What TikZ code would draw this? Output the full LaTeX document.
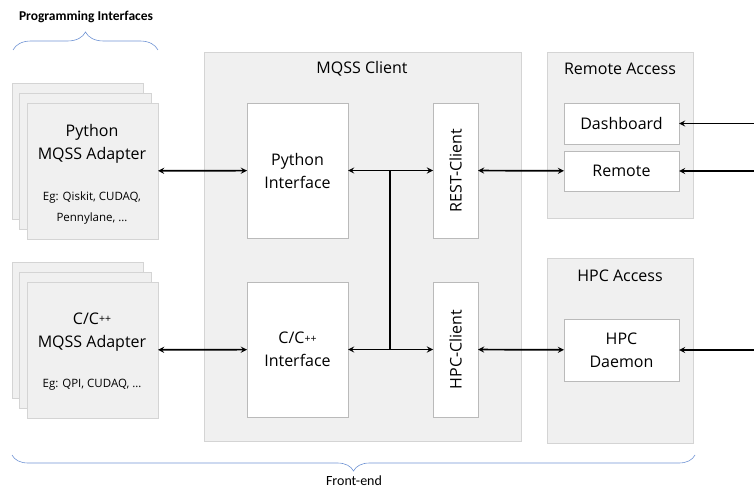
\documentclass[tikz,border=0pt]{standalone}
\usepackage{fontspec}
\setmainfont{Open Sans}
\newfontfamily\notefont{Carlito}
\usetikzlibrary{arrows, positioning, shadows, decorations.pathreplacing}
\definecolor{panelfill}{HTML}{F0F0F0}
\definecolor{paneldraw}{HTML}{D4D4D4}
\definecolor{blockdraw}{HTML}{BABABA}
\definecolor{bracecol}{HTML}{7094D4}

\begin{document}
\begin{tikzpicture}[
            > = stealth, % arrow head style
            x = 1pt, y = -1pt, % pixel grid, y grows downwards
            every node/.style={inner sep=0pt, outer sep=0pt},
            font=\fontsize{16}{23}\selectfont
        ]

        \tikzstyle{panel}=[
            draw = paneldraw,
            fill = panelfill,
            anchor = north west,
            drop shadow = {shadow xshift=0.7pt, shadow yshift=-0.9pt, opacity=0.2, fill=black}
        ]
        \tikzstyle{block}=[
            draw = blockdraw,
            fill = white,
            anchor = north west,
            align = center,
            drop shadow = {shadow xshift=0.7pt, shadow yshift=-0.9pt, opacity=0.2, fill=black}
        ]
        \tikzstyle{link}=[line width=1.7pt, black]
        \tikzstyle{curly}=[draw=bracecol, semithick, decorate]
        \tikzstyle{small}=[font=\fontsize{11.5}{21}\selectfont, align=center]

        \useasboundingbox (0,0) rectangle (754,489);

        % Programming interfaces
        \node[font=\notefont\bfseries\fontsize{13.5}{15}\selectfont] (progtitle) at (86,17) {Programming Interfaces};
        \coordinate (progl) at (13,50);
        \coordinate (progr) at (158,50);
        \draw[curly, decoration={brace, amplitude=18pt}] (progl) -- (progr);

        % Python adapter stack
        \node[panel, minimum width=131, minimum height=136] (pyback2) at (12,83) {};
        \node[panel, minimum width=132, minimum height=136] (pyback1) at (19,93) {};
        \node[panel, minimum width=131, minimum height=136] (pyad) at (27,103) {};
        \node[align=center] (pyadname) at (92,144) {Python\\MQSS Adapter};
        \node[small] (pyadeg) at (92,208) {Eg: Qiskit, CUDAQ,\\Pennylane, …};

        % C/C++ adapter stack
        \node[panel, minimum width=131, minimum height=136] (cback2) at (12,262) {};
        \node[panel, minimum width=132, minimum height=136] (cback1) at (19,272) {};
        \node[panel, minimum width=131, minimum height=136] (cad) at (27,282) {};
        \node[align=center] (cadname) at (92,332) {C/C{\fontsize{10.5}{10}\selectfont\raisebox{1.5pt}{++}}\\MQSS Adapter};
        \node[small] (cadeg) at (92,385) {Eg: QPI, CUDAQ, …};

        % MQSS client
        \node[panel, minimum width=317, minimum height=389] (client) at (204,52) {};
        \node (clienttitle) at (362,69) {MQSS Client};
        \node[block, minimum width=101, minimum height=135] (pyif) at (247,103) {Python\\Interface};
        \node[block, minimum width=101, minimum height=135] (cif) at (247,282) {C/C{\fontsize{10.5}{10}\selectfont\raisebox{1.5pt}{++}}\\Interface};
        \node[block, minimum width=45, minimum height=135] (rest) at (433,103) {};
        \node[rotate=90] (resttxt) at (rest.center) {REST-Client};
        \node[block, minimum width=45, minimum height=135] (hpcc) at (433,282) {};
        \node[rotate=90] (hpcctxt) at (hpcc.center) {HPC-Client};

        % Remote access
        \node[panel, minimum width=146, minimum height=166] (remacc) at (547,52) {};
        \node (remacctitle) at (620,69) {Remote Access};
        \node[block, minimum width=115, minimum height=41] (dash) at (564,103) {Dashboard};
        \node[block, minimum width=115, minimum height=40] (remote) [below=7pt of dash.south west, anchor=north west] {Remote};

        % HPC access
        \node[panel, minimum width=146, minimum height=185] (hpcacc) at (547,258) {};
        \node (hpcacctitle) at (620,276) {HPC Access};
        \node[block, minimum width=115, minimum height=62] (daemon) at (564,319) {HPC\\Daemon};

        % connections
        \draw[link, <->] (pyad) -- (pyif);
        \draw[link, <->] (cad) -- (cif);
        \draw[link, <->] (pyif) -- (rest);
        \draw[link, <->] (cif) -- (hpcc);
        \coordinate (bus) at (390,0);
        \draw[link] (bus |- pyif.east) -- (bus |- cif.east);
        \draw[link, <->] (rest) -- (remote);
        \draw[link, <->] (hpcc) -- (daemon);

        \coordinate (dashin) at (754,123.5);
        \coordinate (remin) at (754,171);
        \coordinate (daemonin) at (754,350);
        \draw[link, ->] (dashin) -- (dash);
        \draw[link, ->] (remin) -- (remote);
        \draw[link, ->] (daemonin) -- (daemon);

        % front-end
        \coordinate (frontr) at (695,455);
        \coordinate (frontl) at (12,455);
        \draw[curly, decoration={brace, amplitude=16pt}] (frontr) -- (frontl);
        \node[font=\notefont\fontsize{14}{15}\selectfont] (fronttitle) at (354,481) {Front-end};

\end{tikzpicture}
\end{document}
